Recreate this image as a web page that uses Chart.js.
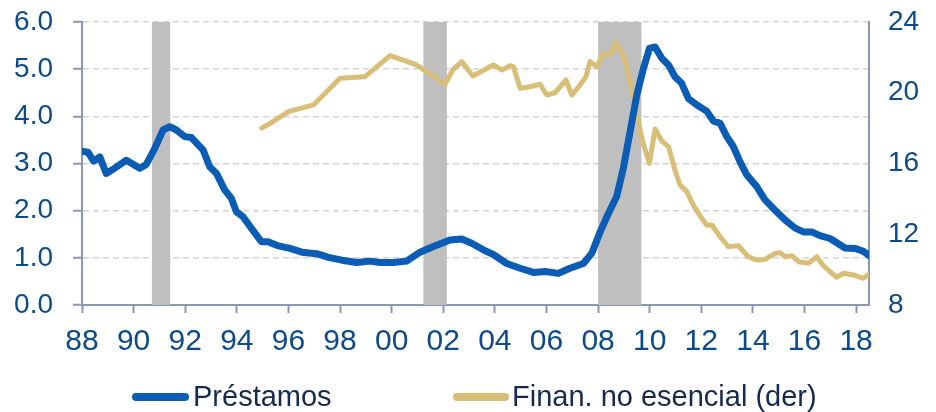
<!DOCTYPE html>
<html>
<head>
<meta charset="utf-8">
<script src="https://cdn.jsdelivr.net/npm/chart.js@4/dist/chart.umd.min.js"></script>
<style>
  html, body { margin: 0; padding: 0; background: #fff; overflow: hidden; }
  #wrap { position: relative; width: 936px; height: 412px; }
  #chart { position: absolute; left: 0; top: 0; }
  .leg { position: absolute; font-family: "Liberation Sans", Arial, sans-serif; font-size: 29px; color: #152a4d; line-height: 32px; white-space: nowrap; }
  .legline { position: absolute; height: 8px; border-radius: 4px; }
</style>
</head>
<body>
<div id="wrap">
  <canvas id="chart" width="936" height="412"></canvas>
  <div class="legline" id="l1" style="left:132px; top:393px; width:57px;"></div>
  <div class="leg" id="t1" style="left:193px; top:380px;"></div>
  <div class="legline" id="l2" style="left:453px; top:393px; width:56px;"></div>
  <div class="leg" id="t2" style="left:512px; top:380px;"></div>
</div>
<script>
// series (años como decimales)
const prestamosX = [1988.0, 1988.23, 1988.45, 1988.69, 1988.94, 1989.27, 1989.72, 1990.24, 1990.49, 1990.82,
  1991.14, 1991.40, 1991.66, 1991.98, 1992.24, 1992.69, 1992.95, 1993.21, 1993.53, 1993.79,
  1993.98, 1994.24, 1994.56, 1994.95, 1995.21, 1995.57, 1996.06, 1996.52, 1997.16, 1997.55,
  1998.07, 1998.65, 1999.16, 1999.55, 2000.07, 2000.58, 2001.10, 2001.62, 2002.26, 2002.72,
  2003.10, 2003.55, 2003.94, 2004.46, 2004.98, 2005.49, 2005.95, 2006.46, 2006.91, 2007.43,
  2007.76, 2008.08, 2008.40, 2008.72, 2008.98, 2009.24, 2009.50, 2009.76, 2009.99, 2010.21,
  2010.47, 2010.73, 2010.98, 2011.24, 2011.50, 2011.83, 2012.21, 2012.47, 2012.73, 2012.99,
  2013.24, 2013.50, 2013.76, 2014.15, 2014.47, 2014.86, 2015.25, 2015.64, 2015.96, 2016.28,
  2016.60, 2016.99, 2017.25, 2017.57, 2017.96, 2018.28, 2018.5];
const prestamosY = [3.26, 3.24, 3.05, 3.14, 2.79, 2.90, 3.07, 2.90, 2.98, 3.32,
  3.71, 3.78, 3.71, 3.57, 3.55, 3.29, 2.93, 2.79, 2.44, 2.26,
  1.98, 1.87, 1.63, 1.34, 1.34, 1.26, 1.20, 1.12, 1.08, 1.01,
  0.95, 0.90, 0.93, 0.90, 0.90, 0.93, 1.12, 1.24, 1.38, 1.40,
  1.31, 1.17, 1.07, 0.88, 0.78, 0.69, 0.71, 0.67, 0.78, 0.88,
  1.10, 1.55, 1.94, 2.30, 2.90, 3.67, 4.45, 5.02, 5.44, 5.47,
  5.23, 5.09, 4.84, 4.70, 4.38, 4.24, 4.11, 3.90, 3.85, 3.57,
  3.36, 3.04, 2.76, 2.51, 2.23, 2.01, 1.80, 1.63, 1.55, 1.55,
  1.47, 1.41, 1.32, 1.21, 1.20, 1.14, 1.05];

const finanX = [1994.96, 1995.29, 1996.0, 1996.97, 1998.0, 1998.97, 1999.94, 2000.97, 2002.07, 2002.37,
  2002.72, 2003.15, 2003.94, 2004.27, 2004.59, 2004.72, 2004.98, 2005.36, 2005.75, 2006.01,
  2006.33, 2006.76, 2006.98, 2007.30, 2007.53, 2007.69, 2007.95, 2008.18, 2008.47, 2008.70,
  2008.98, 2009.24, 2009.50, 2009.73, 2009.99, 2010.21, 2010.47, 2010.73, 2010.98, 2011.18,
  2011.44, 2011.69, 2012.02, 2012.21, 2012.41, 2012.73, 2013.05, 2013.44, 2013.82, 2014.15,
  2014.47, 2014.86, 2015.05, 2015.25, 2015.51, 2015.77, 2016.15, 2016.48, 2016.73, 2016.99,
  2017.25, 2017.51, 2017.90, 2018.28, 2018.5];
const finanY = [18.0, 18.27, 18.93, 19.31, 20.82, 20.91, 22.10, 21.57, 20.48, 21.29,
  21.76, 20.95, 21.57, 21.29, 21.53, 21.47, 20.25, 20.34, 20.48, 19.87,
  20.0, 20.72, 19.87, 20.44, 20.91, 21.76, 21.47, 22.17, 22.17, 22.80,
  22.13, 20.63, 18.74, 17.23, 16.01, 17.95, 17.27, 16.95, 15.63, 14.78,
  14.41, 13.65, 12.90, 12.52, 12.52, 11.86, 11.30, 11.35, 10.73, 10.54,
  10.58, 10.92, 10.96, 10.73, 10.79, 10.45, 10.36, 10.73, 10.22, 9.88,
  9.57, 9.79, 9.70, 9.51, 9.74];

// recesiones (inicio, fin)
const recessions = [[1990.71, 1991.42], [2001.23, 2002.14], [2008.0, 2009.68]];

const seriesNames = ["Préstamos", "Finan. no esencial (der)"];
const seriesColors = ["#0a5cb5", "#d9be77"];

const axisColor = "#8c97b0";
const tickColor = "#0d4a88";
const fontFam = '"Liberation Sans", Arial, sans-serif';

const toPts = (xs, ys) => xs.map((x, i) => ({x: x, y: ys[i]}));

// sombreado de recesiones
const bandsPlugin = {
  id: 'bands',
  beforeDatasetsDraw(chart) {
    const {ctx, chartArea, scales} = chart;
    ctx.save();
    ctx.fillStyle = "#bfbfbf";
    for (const [a, b] of recessions) {
      const x1 = scales.x.getPixelForValue(a);
      const x2 = scales.x.getPixelForValue(b);
      ctx.fillRect(x1, chartArea.top, x2 - x1, chartArea.bottom - chartArea.top);
    }
    ctx.restore();
  }
};

document.getElementById('l1').style.background = seriesColors[0];
document.getElementById('l2').style.background = seriesColors[1];
document.getElementById('t1').textContent = seriesNames[0];
document.getElementById('t2').textContent = seriesNames[1];

const fitY = (w) => (s) => {
  s.width = w;
  s.paddingTop = 0;
  s.paddingBottom = 0;
};

const config = {
  type: 'line',
  data: {
    datasets: [
      {
        label: seriesNames[0],
        data: toPts(prestamosX, prestamosY),
        borderColor: seriesColors[0],
        borderWidth: 7,
        yAxisID: 'y',
        order: 1
      },
      {
        label: seriesNames[1],
        data: toPts(finanX, finanY),
        borderColor: seriesColors[1],
        borderWidth: 5,
        yAxisID: 'y2',
        order: 2
      }
    ]
  },
  options: {
    responsive: false,
    animation: false,
    parsing: false,
    elements: {
      point: { radius: 0 },
      line: { tension: 0, borderJoinStyle: 'round', borderCapStyle: 'round' }
    },
    layout: { padding: { top: 22, left: 0, right: 0, bottom: 0 } },
    plugins: {
      legend: { display: false },
      tooltip: { enabled: false }
    },
    scales: {
      x: {
        type: 'linear',
        min: 1988,
        max: 2018.5,
        afterFit: (s) => { s.height = 107; s.paddingLeft = 0; s.paddingRight = 0; },
        grid: { drawOnChartArea: false, tickLength: 8, tickColor: axisColor, tickWidth: 2 },
        border: { color: axisColor, width: 2 },
        ticks: {
          stepSize: 2,
          includeBounds: false,
          padding: 11,
          color: tickColor,
          font: { family: fontFam, size: 30 },
          maxRotation: 0,
          autoSkip: false,
          callback: (v) => String(v % 100).padStart(2, '0')
        }
      },
      y: {
        position: 'left',
        min: 0,
        max: 6,
        afterFit: fitY(82),
        grid: {
          color: (c) => c.tick && c.tick.value === 0 ? 'rgba(0,0,0,0)' : '#d3d3d3',
          lineWidth: 1.5,
          tickLength: 9,
          tickColor: axisColor,
          tickWidth: 2
        },
        border: { color: axisColor, width: 2, dash: [6, 4] },
        ticks: {
          stepSize: 1,
          padding: 20,
          color: tickColor,
          font: { family: fontFam, size: 28 },
          callback: (v) => v.toFixed(1)
        }
      },
      y2: {
        position: 'right',
        min: 8,
        max: 24,
        afterFit: fitY(67),
        grid: { drawOnChartArea: false, drawTicks: false },
        border: { color: axisColor, width: 2 },
        ticks: {
          stepSize: 4,
          padding: 19,
          color: tickColor,
          font: { family: fontFam, size: 28 }
        }
      }
    }
  },
  plugins: [bandsPlugin]
};

const myChart = new Chart(document.getElementById('chart'), config);
</script>
</body>
</html>
